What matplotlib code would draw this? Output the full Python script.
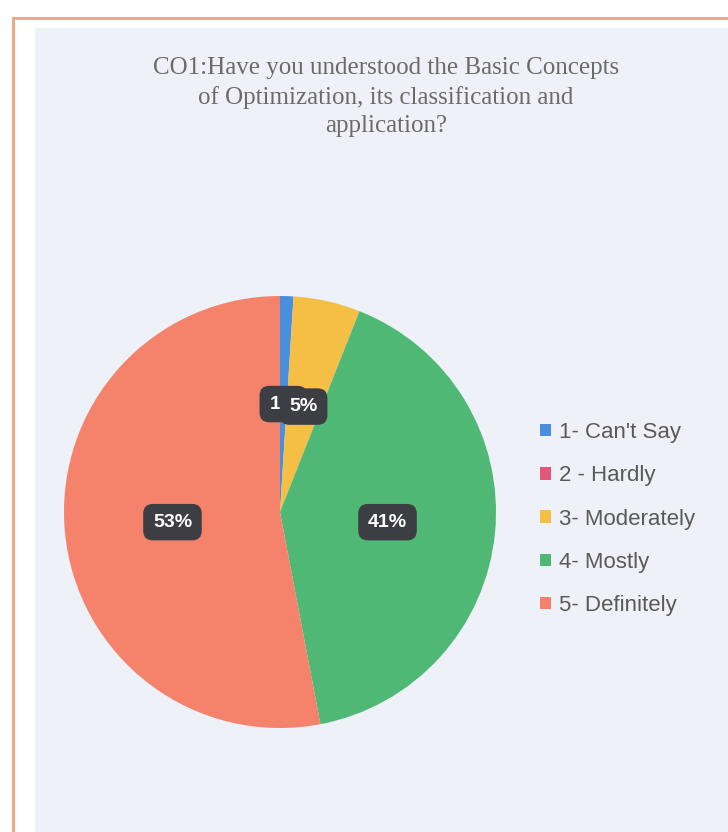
import matplotlib.pyplot as plt
from matplotlib.patches import Rectangle

# data
labels = ["1- Can't Say", "2 - Hardly", "3- Moderately", "4- Mostly", "5- Definitely"]
values = [1, 0, 5, 41, 53]
colors = ["#4a8fde", "#e2577b", "#f5bf45", "#4fb874", "#f5826b"]
title = "CO1:Have you understood the Basic Concepts\nof Optimization, its classification and\napplication?"

W, H = 728, 832
fig = plt.figure(figsize=(W / 100, H / 100), dpi=100)
fig.patch.set_facecolor("white")

# photo frame: orange border + light panel (kept behind the axes)
for x0, y0, w, h, c in [(12, 0, 3, H - 17, "#eaa987"),
                        (12, H - 20, W - 12, 3, "#eaa987"),
                        (35, 0, W - 35, H - 28, "#eef1f7")]:
    fig.patches.append(Rectangle((x0 / W, y0 / H), w / W, h / H, transform=fig.transFigure,
                                 facecolor=c, edgecolor="none", zorder=-10))

fig.text(386 / W, 1 - 97 / H, title, ha="center", va="center", fontsize=18,
         family="Liberation Serif", color="#6b6b6b", linespacing=1.4)

# pie: centre (280, 512), radius 216 px
cx, cy, r = 280, 512, 216
ax = fig.add_axes([(cx - r) / W, 1 - (cy + r) / H, 2 * r / W, 2 * r / H])


def fmt(p):
    return "" if p < 0.5 else "%d%%" % round(p)


wedges, texts, autotexts = ax.pie(values, colors=colors, startangle=90, counterclock=False,
                                  autopct=fmt, pctdistance=0.5, radius=1,
                                  wedgeprops=dict(linewidth=0))
for t in autotexts:
    t.set_color("white")
    t.set_fontweight("bold")
    t.set_fontsize(14)
    t.set_family("Liberation Sans")
    if t.get_text():
        t.set_bbox(dict(boxstyle="round,pad=0.5", facecolor="#3d3d44", edgecolor="none"))
ax.set_xlim(-1, 1)
ax.set_ylim(-1, 1)
ax.set_aspect("equal")
ax.axis("off")

leg = fig.legend(wedges, labels, loc="center left", bbox_to_anchor=(520 / W, 1 - 519 / H),
                 frameon=False, handlelength=0.5, handleheight=0.5,
                 handletextpad=0.35, labelspacing=1.0, labelcolor="#5a5a5a",
                 prop=dict(family="Liberation Sans", size=16))

fig.savefig("out.png", dpi=100)
